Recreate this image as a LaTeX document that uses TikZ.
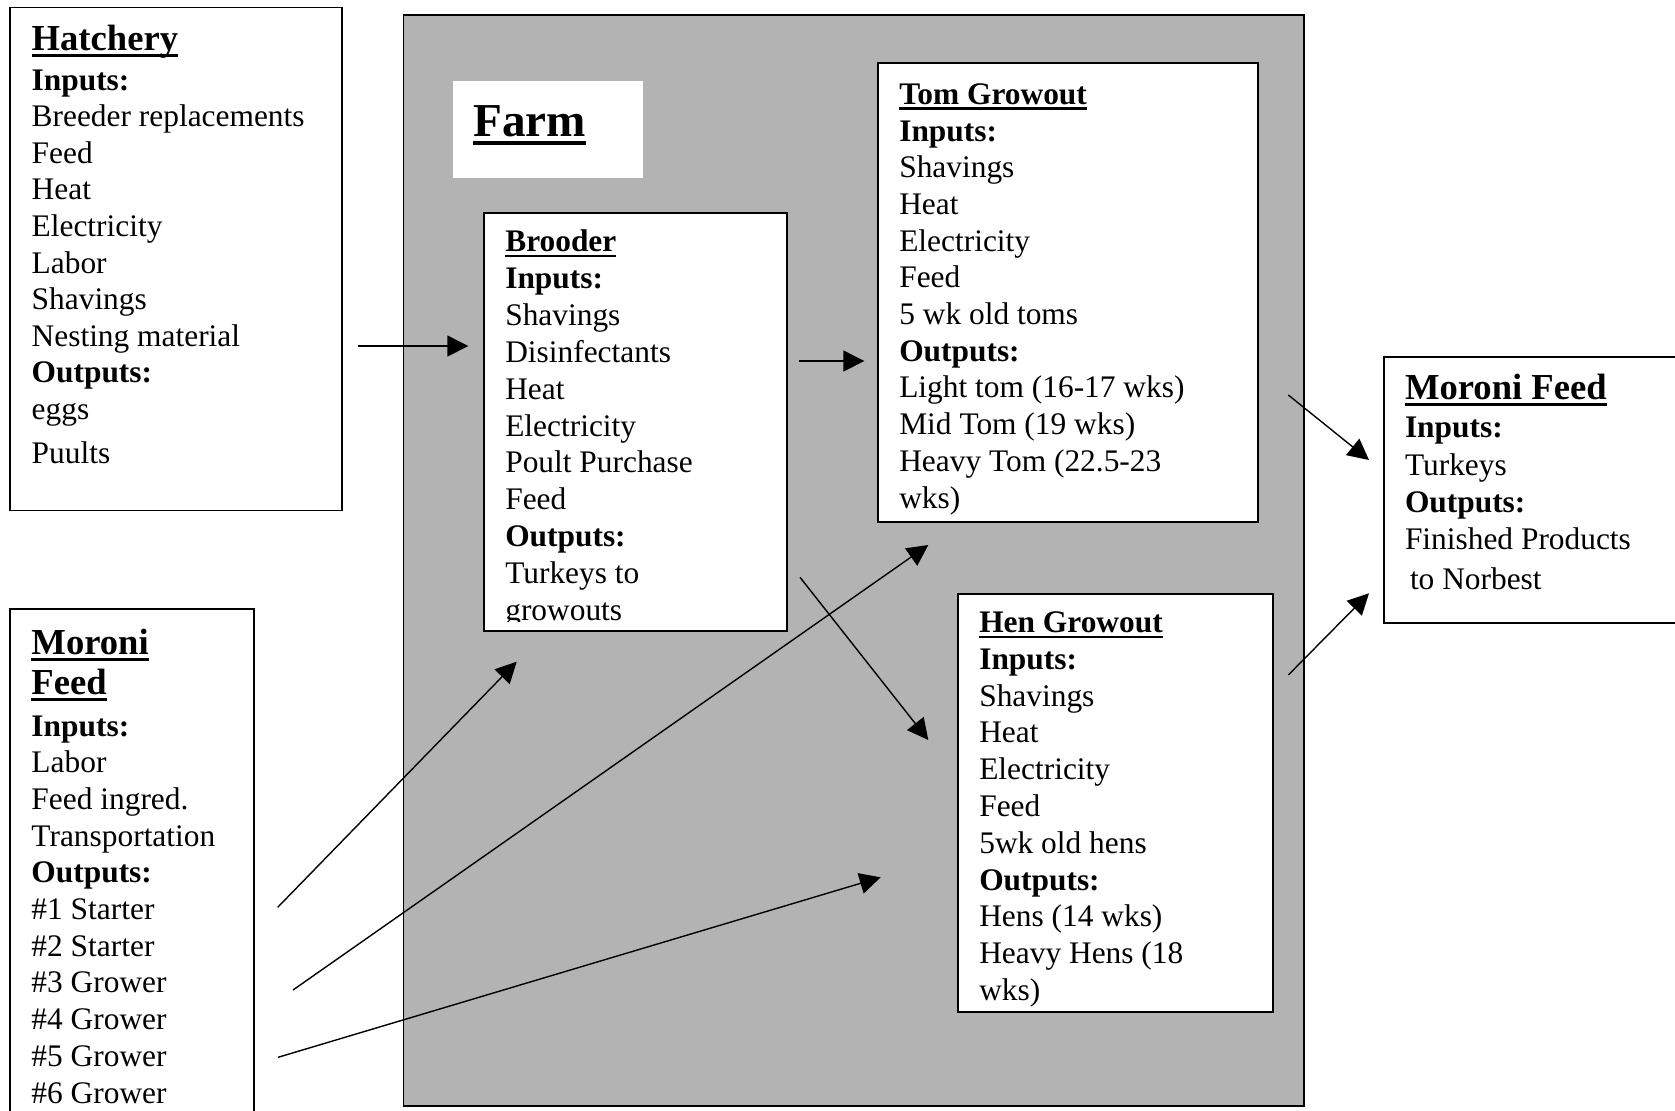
\documentclass[tikz,border=0pt]{standalone}
\usepackage{fontspec}
\setmainfont{Liberation Serif}
\usetikzlibrary{arrows.meta}
\definecolor{farmgray}{RGB}{179,179,179}
\newlength\ulw
\newcommand\hdul[1]{\settowidth\ulw{#1}\rlap{\rule[-0.19em]{\ulw}{0.09em}}#1}
\newcommand\firststrut[1]{\rule{0pt}{#1}}
\newcommand\hd{\fontsize{18.3pt}{20pt}\selectfont\bfseries}
\newcommand\bodysize[1]{\fontsize{15.7pt}{#1}\selectfont}
\begin{document}
\begin{tikzpicture}[x=0.5pt,y=-0.5pt,
  box/.style={draw, line width=0.85pt, fill=white, inner sep=0pt, outer sep=0pt, anchor=north west},
  txt/.style={anchor=north west, inner sep=0pt, outer sep=0pt, align=left},
  conn/.style={line width=0.7pt, -{Triangle[length=10.5pt,width=10.5pt]}}]
\useasboundingbox (0,0) rectangle (1675,1110);
\clip (0,0) rectangle (1675,1110);
% boxes
\node[box, fill=farmgray, minimum width=450.25pt, minimum height=545.5pt] (farm) at (403.5,15) {};
\node[box, draw=none, minimum width=94.7pt, minimum height=48.65pt] (farmlabel) at (453.3,81) {};
\node[box, minimum width=166pt, minimum height=251.5pt] (hatchery) at (10,7.5) {};
\node[box, minimum width=122pt, minimum height=258pt] (moronil) at (10,609.3) {};
\node[box, minimum width=151.35pt, minimum height=208.7pt] (brooder) at (484,213.3) {};
\node[box, minimum width=189.85pt, minimum height=229.2pt] (tom) at (878.3,63.3) {};
\node[box, minimum width=157.2pt, minimum height=208.85pt] (hen) at (958.3,594) {};
\node[box, minimum width=153pt, minimum height=133pt] (moronir) at (1384,357.3) {};
% texts
\node[txt, font={\fontsize{23.6pt}{26pt}\selectfont\bfseries}] (farmtext) at (473.3,100) {\firststrut{18pt}\hdul{Farm}};
\node[txt, font={\bodysize{18.3pt}}] (hatchtext) at (31.7,20) {\firststrut{15pt}{\hd\hdul{Hatchery}}\\[1.7pt]
\textbf{Inputs:}\\ Breeder replacements\\ Feed\\ Heat\\ Electricity\\ Labor\\ Shavings\\ Nesting material\\ \textbf{Outputs:}\\ eggs\\[3.5pt] Puults};
\node[txt, font={\bodysize{18.35pt}}] (moronltext) at (31.5,624) {\firststrut{15pt}{\hd\hdul{Moroni}}\\[1.7pt]
{\hd\hdul{Feed}}\\[2.6pt]
\textbf{Inputs:}\\ Labor\\ Feed ingred.\\ Transportation\\ \textbf{Outputs:}\\ \#1 Starter\\ \#2 Starter\\ \#3 Grower\\ \#4 Grower\\ \#5 Grower\\ \#6 Grower};
\begin{scope}
\clip (484,213.3) rectangle (786.7,621);
\node[txt, font={\bodysize{18.45pt}}] (broodtext) at (505.3,221.5) {\firststrut{15pt}\textbf{\hdul{Brooder}}\\
\textbf{Inputs:}\\ Shavings\\ Disinfectants\\ Heat\\ Electricity\\ Poult Purchase\\ Feed\\ \textbf{Outputs:}\\ Turkeys to\\ growouts};
\end{scope}
\node[txt, font={\bodysize{18.35pt}}] (tomtext) at (899.3,74.3) {\firststrut{15pt}\textbf{\hdul{Tom Growout}}\\
\textbf{Inputs:}\\ Shavings\\ Heat\\ Electricity\\ Feed\\ 5 wk old toms\\ \textbf{Outputs:}\\ Light tom (16-17 wks)\\ Mid Tom (19 wks)\\ Heavy Tom (22.5-23\\ wks)};
\node[txt, font={\bodysize{18.4pt}}] (hentext) at (979.3,602.5) {\firststrut{15pt}\textbf{\hdul{Hen Growout}}\\
\textbf{Inputs:}\\ Shavings\\ Heat\\ Electricity\\ Feed\\ 5wk old hens\\ \textbf{Outputs:}\\ Hens (14 wks)\\ Heavy Hens (18\\ wks)};
\node[txt, font={\bodysize{18.6pt}}] (moronrtext) at (1405,369.5) {\firststrut{15pt}{\hd\hdul{Moroni Feed}}\\[0.6pt]
\textbf{Inputs:}\\ Turkeys\\ \textbf{Outputs:}\\ Finished Products\\[1.4pt] \hspace{2.5pt}to Norbest};
% connector ends
\coordinate (hatch-out) at (358,346);
\coordinate (brood-in) at (468.3,346);
\coordinate (brood-out1) at (799.3,361);
\coordinate (tom-in1) at (864.3,361);
\coordinate (brood-out2) at (800,577.3);
\coordinate (hen-in1) at (928.3,740);
\coordinate (morl-out1) at (277.7,907.3);
\coordinate (brood-in2) at (516.7,661.7);
\coordinate (morl-out2) at (293,990);
\coordinate (tom-in2) at (928.3,545);
\coordinate (morl-out3) at (278,1057.3);
\coordinate (hen-in2) at (880.7,877.3);
\coordinate (tom-out) at (1288.3,395);
\coordinate (morr-in1) at (1369,460);
\coordinate (hen-out) at (1288.3,675);
\coordinate (morr-in2) at (1369,593.3);
% connectors
\draw[conn] (hatch-out) -- (brood-in);
\draw[conn] (brood-out1) -- (tom-in1);
\draw[conn] (brood-out2) -- (hen-in1);
\draw[conn] (morl-out1) -- (brood-in2);
\draw[conn] (morl-out2) -- (tom-in2);
\draw[conn] (morl-out3) -- (hen-in2);
\draw[conn] (tom-out) -- (morr-in1);
\draw[conn] (hen-out) -- (morr-in2);
\end{tikzpicture}
\end{document}
